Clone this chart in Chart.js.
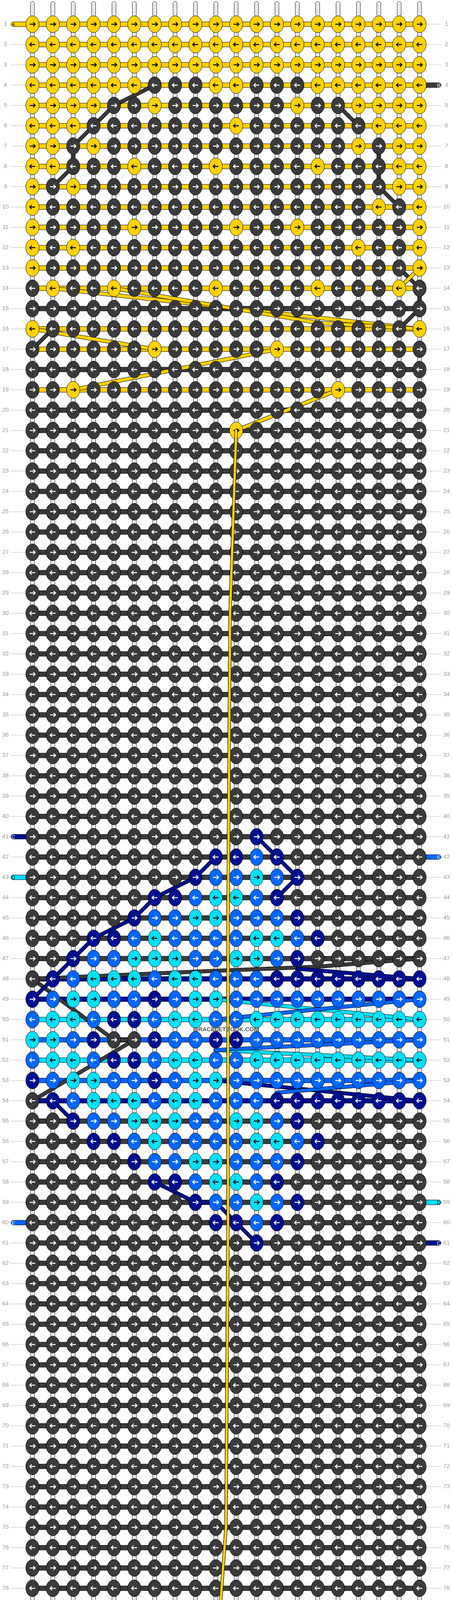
<!DOCTYPE html>
<html><head><meta charset="utf-8">
<script src="https://cdn.jsdelivr.net/npm/chart.js@4.4.1/dist/chart.umd.min.js"></script>
<style>html,body{margin:0;padding:0;background:#fff;overflow:hidden}canvas{display:block}</style>
</head><body><canvas id="c" width="1156" height="5272" style="width:1156px;height:5272px"></canvas>
<script>
// Knot colours per row (Y yellow, K dark, N navy, B blue, C cyan), columns 1..20
const rows = [
"YYYYYYYYYYYYYYYYYYYY","YYYYYYYYYYYYYYYYYYYY","YYYYYYYYYYYYYYYYYYYY",
"YYYYYYKKKYYKKKYYYYYY","YYYYKKYKKKKKKYKKYYYY","YYYKKKKKKKYKKKKKKYYY",
"YYKYKKKKKKKKKKKKYKYY","YYKKKYKKKYKKKKYKKKYY","YKYKKKKKKKKKKKKKKKYY",
"YKKKKKKKKKKKKKKKKYKY","YKKKKYKKKKYKKYKKKKKY","YKYKKKKKKKKKKKKKYKKY",
"YKKKKKKKKKKKKKKKKKKY","KYKKYKKKKYKKKKYKKKYK","KKKKKKKKKKKKKKKKKKKK",
"YKKKKKKKKKKKKKKKKKKY","KKKKKKYKKKKKYKKKKKKK","KKKKKKKKKKKKKKKKKKKK",
"KKYKKKKKKKKKKKKYKKKK","KKKKKKKKKKKKKKKKKKKK","KKKKKKKKKKYKKKKKKKKK",
"KKKKKKKKKKKKKKKKKKKK","KKKKKKKKKKKKKKKKKKKK","KKKKKKKKKKKKKKKKKKKK",
"KKKKKKKKKKKKKKKKKKKK","KKKKKKKKKKKKKKKKKKKK","KKKKKKKKKKKKKKKKKKKK",
"KKKKKKKKKKKKKKKKKKKK","KKKKKKKKKKKKKKKKKKKK","KKKKKKKKKKKKKKKKKKKK",
"KKKKKKKKKKKKKKKKKKKK","KKKKKKKKKKKKKKKKKKKK","KKKKKKKKKKKKKKKKKKKK",
"KKKKKKKKKKKKKKKKKKKK","KKKKKKKKKKKKKKKKKKKK","KKKKKKKKKKKKKKKKKKKK",
"KKKKKKKKKKKKKKKKKKKK","KKKKKKKKKKKKKKKKKKKK","KKKKKKKKKKKKKKKKKKKK",
"KKKKKKKKKKKKKKKKKKKK",
"KKKKKKKKKKKNKKKKKKKK", //41
"KKKKKKKKKNNBNKKKKKKK",
"KKKKKKKKNBBCBNKKKKKK",
"KKKKKKNNBCCBNKKKKKKK",
"KKKKKNBBCCBBBNKKKKKK",
"KKKNNBCBBBBCCBNKKKKK",
"KKNBBCCCBBCCBNKKKKKK",
"KNBCCCBCCBBBNNNNNNNN",
"NBCCBBNBCCBBBBBBBBBB",
"BCCBNNBCCBBCCCCCCCCC",
"CCBNKKNBBNNBBBBBBBBB", //51
"BCCBNNBCCBBCCCCCCCCC",
"NBCCBBNBCCBBBBBBBBBB",
"KNBCCCBCCBBBNNNNNNNN",
"KKNBBCCCBBCCBNKKKKKK",
"KKKNNBCBBBBCCBNKKKKK",
"KKKKKNBBCCBBBNKKKKKK",
"KKKKKKNNBCCBNKKKKKKK",
"KKKKKKKKNBBCBNKKKKKK",
"KKKKKKKKKNNBNKKKKKKK",
"KKKKKKKKKKKNKKKKKKKK", //61
"KKKKKKKKKKKKKKKKKKKK","KKKKKKKKKKKKKKKKKKKK","KKKKKKKKKKKKKKKKKKKK",
"KKKKKKKKKKKKKKKKKKKK","KKKKKKKKKKKKKKKKKKKK","KKKKKKKKKKKKKKKKKKKK",
"KKKKKKKKKKKKKKKKKKKK","KKKKKKKKKKKKKKKKKKKK","KKKKKKKKKKKKKKKKKKKK",
"KKKKKKKKKKKKKKKKKKKK","KKKKKKKKKKKKKKKKKKKK","KKKKKKKKKKKKKKKKKKKK",
"KKKKKKKKKKKKKKKKKKKK","KKKKKKKKKKKKKKKKKKKK","KKKKKKKKKKKKKKKKKKKK",
"KKKKKKKKKKKKKKKKKKKK","KKKKKKKKKKKKKKKKKKKK","KKKKKKKKKKKKKKKKKKKK",
"KKKKKKKKKKKKKKKKKKKK","KKKKKKKKKKKKKKKKKKKK", //81
"KKKKKKKKKYKKKKKKKKKK","KKKKKKKKKKKKKKKKKKKK","KKYKKKKKKKKKKKKYKKKK",
"KKKKKKKKKKKKKKKKKKKK","YKKKKKYKKKKKYKKKKKKK","KKKKKKKKKKKKKKKKKKKY",
"KYKKKKKKKYKKKKKKKKKK","YKKKKKKKKKKKKKYKKKYK","YKYKKKKKKKKKKKKKKKKY",
"YKKKKKYKKKYKKYKKYKKY","YKKKKKKKKKKKKKKKKKKY","YKYKKKKKKKKKKKKKKYKY",
"YYKKKYKKKYKKKKYKKKYY","YYKYKKKKKKKKKKKKYKYY","YYYKKKKKKKYKKKKKKYYY",
"YYYYKKYKKKKKKYKKYYYY","YYYYYYKKKYYKKKYYYYYY","YYYYYYYYYYYYYYYYYYYY",
"YYYYYYYYYYYYYYYYYYYY"];
// Colour of the horizontal carrier thread in each row
const carriers = "YYYYYYYYYYYYYYKYYKYKKKKKKKKKKKKKKKKKKKKKKKKKKKKNNCBCBNKKKKKKKKKKKKKKKKKKKKKKKKKKKKKYKYKYYYYYYYYYYYY";
// Thread labels: [row, side, letter, colour]
const threadLabels = [[1,"L","A","Y"],[4,"R","B","K"],[41,"L","C","N"],[42,"R","E","B"],[43,"L","D","C"],
  [59,"R","D","C"],[60,"L","E","B"],[61,"R","C","N"],[98,"L","B","K"],[100,"L","A","Y"]];
// Long yellow thread carried down the middle: [column, row]
const centerThread = [[11,21],[10.7,30],[10.6,45],[10.6,60],[10.5,75],[10,82]];
// Diagonal thread paths: [colour, [column,row] ...]
const diagonals = [
 ["K",[7,4],[5,5],[4,6],[3,7],[3,8],[2,9]],
 ["K",[16,5],[17,6]],["K",[18,7],[18,9],[19,10]],
 ["K",[19,13],[20,14],[20,15],[19,16]],["K",[2,16],[1,17]],
 ["Y",[19,14],[20,13]],
 ["Y",[2,14],[11,15],[20,16]],["Y",[5,14],[15,15.7],[20,16]],
 ["Y",[1,16],[7,17]],["Y",[13,17],[3,19]],["Y",[16,19],[11,21]],
 ["K",[1,48],[10,47.6],[15,47.4],[20,47]],["N",[14,47.5],[20,48]],
 ["K",[1,48],[5,51],[6,51],[1,54]],
 ["C",[10,49],[20,50]],["B",[10,50],[20,49]],
 ["C",[10,51.5],[20,52]],["B",[10,51.5],[20,51]],
 ["N",[10,53],[20,54]],["B",[13,53.6],[20,53]],
 ["N",[12,41],[13,42],[14,43],[13,44]],["N",[10,42],[9,43],[7,44],[6,45],[4,46],[3,47],[2,48],[1,49]],
 ["N",[12,61],[11,60],[10,59],[9,59],[7,58]],["N",[3,55],[2,54]],
 ["Y",[10,82],[16,84]],["Y",[3,84],[13,86]],["Y",[1,86],[20,87]],["Y",[20,87],[10,88]],
 ["Y",[2,88],[1,89]],["Y",[19,89],[20,90]],
 ["K",[19,93],[18,95],[17,96]],["K",[4,96],[5,97]],["K",[16,97],[14,98]],
 ["K",[1,87],[2,86]],["K",[19,87],[20,88]]
];
const colours = {Y:"#ffd200",K:"#3a3a3a",N:"#000f8f",B:"#0066ff",C:"#00e0f8"};
const arrowDark = {Y:true,C:true};

const points = [];
rows.forEach((s,ri)=>{for(let c=0;c<s.length;c++)points.push({x:c+1,y:ri+1,k:s[c]});});

const drawPlugin = {
 id:"bracelet",
 beforeDatasetsDraw(chart){
  const ctx=chart.ctx, xs=chart.scales.x, ys=chart.scales.y;
  const X=v=>xs.getPixelForValue(v), Y=v=>ys.getPixelForValue(v);
  ctx.save();
  for(let c=1;c<=20;c++){
    [[Y(1)-58,Y(1)-20],[Y(100)+20,Y(100)+58]].forEach(([a,b])=>{
      ctx.fillStyle="#fff";ctx.strokeStyle="#000";ctx.lineWidth=1;
      ctx.beginPath();ctx.roundRect(X(c)-5,a,10,b-a,5);ctx.fill();ctx.stroke();
      ctx.strokeStyle="#bbb";ctx.beginPath();ctx.moveTo(X(c)-1.5,a+4);ctx.lineTo(X(c)-1.5,b);ctx.moveTo(X(c)+1.5,a+4);ctx.lineTo(X(c)+1.5,b);ctx.stroke();
    });
  }
  ctx.font="15px Arial";ctx.textBaseline="middle";
  for(let r=1;r<=rows.length;r++){
    ctx.strokeStyle="#bbb";ctx.lineWidth=1;
    ctx.beginPath();ctx.moveTo(27,Y(r));ctx.lineTo(X(1)-15,Y(r));ctx.moveTo(X(20)+15,Y(r));ctx.lineTo(1128,Y(r));ctx.stroke();
    ctx.fillStyle="#999";ctx.textAlign="center";
    ctx.fillText(String(r),r>=100?11:14,Y(r));ctx.fillText(String(r),1142,Y(r));
  }
  for(let r=1;r<rows.length;r++)for(let c=1;c<=20;c++){
    const a=Y(r)+18,b=Y(r+1)-18;
    ctx.fillStyle="#fff";ctx.strokeStyle="#000";ctx.lineWidth=1;
    ctx.fillRect(X(c)-5,a,10,b-a);ctx.strokeRect(X(c)-5,a,10,b-a);
    ctx.strokeStyle="#bbb";ctx.beginPath();ctx.moveTo(X(c)-1.5,a);ctx.lineTo(X(c)-1.5,b);ctx.moveTo(X(c)+1.5,a);ctx.lineTo(X(c)+1.5,b);ctx.stroke();
  }
  for(let r=1;r<=rows.length;r++){
    const col=colours[carriers[r-1]];
    ctx.fillStyle=col;ctx.strokeStyle="#000";ctx.lineWidth=1;
    ctx.fillRect(X(1),Y(r)-6,X(20)-X(1),12);
    ctx.beginPath();ctx.moveTo(X(1),Y(r)-6);ctx.lineTo(X(20),Y(r)-6);ctx.moveTo(X(1),Y(r)+6);ctx.lineTo(X(20),Y(r)+6);ctx.stroke();
  }
  threadLabels.forEach(([r,side,t,k])=>{
    ctx.fillStyle=colours[k];ctx.strokeStyle="#000";
    const x0=side==="L"?28:X(20);const x1=side==="L"?X(1):1128;
    ctx.beginPath();ctx.roundRect(x0,Y(r)-6,x1-x0,12,6);ctx.fill();ctx.stroke();
    ctx.fillStyle=arrowDark[k]?"#000":"#fff";ctx.font="13px Arial";ctx.textAlign="center";
    ctx.fillText(t,side==="L"?34:1122,Y(r)+1);
  });
  ctx.lineCap="round";ctx.lineJoin="round";
  diagonals.forEach(d=>{
    const k=d[0],pts=d.slice(1);
    ctx.beginPath();pts.forEach(([c,r],i)=>{i?ctx.lineTo(X(c),Y(r)):ctx.moveTo(X(c),Y(r));});
    ctx.strokeStyle="#000";ctx.lineWidth=10;ctx.stroke();
    ctx.strokeStyle=colours[k];ctx.lineWidth=8;ctx.stroke();
  });
  ctx.strokeStyle="#000";ctx.lineWidth=8;ctx.beginPath();
  centerThread.forEach(([c,r],i)=>{i?ctx.lineTo(X(c),Y(r)):ctx.moveTo(X(c),Y(r));});ctx.stroke();
  ctx.strokeStyle=colours.Y;ctx.lineWidth=6;ctx.stroke();
  ctx.restore();
 },
 afterDatasetsDraw(chart){
  const ctx=chart.ctx;ctx.save();
  chart.data.datasets.forEach((ds,di)=>{
    const meta=chart.getDatasetMeta(di);
    meta.data.forEach((el,i)=>{
      const p=ds.data[i];
      ctx.fillStyle=colours[p.k];ctx.strokeStyle="#000";ctx.lineWidth=1;
      ctx.beginPath();ctx.ellipse(el.x,el.y,17,21.5,0,0,Math.PI*2);ctx.fill();ctx.stroke();
      const dir=(p.y%2===1)?1:-1;
      ctx.strokeStyle=arrowDark[p.k]?"#000":"#fff";ctx.lineWidth=2.4;ctx.lineCap="butt";
      ctx.beginPath();ctx.moveTo(el.x-7*dir,el.y);ctx.lineTo(el.x+7*dir,el.y);
      ctx.moveTo(el.x+2*dir,el.y-5);ctx.lineTo(el.x+7*dir,el.y);ctx.lineTo(el.x+2*dir,el.y+5);ctx.stroke();
    });
  });
  // central yellow thread passes over the knots in the middle section
  const xs=chart.scales.x, ys=chart.scales.y;
  ctx.lineCap="round";ctx.lineJoin="round";
  ctx.strokeStyle="#000";ctx.lineWidth=8;ctx.beginPath();
  centerThread.forEach(([c,r],i)=>{const x=xs.getPixelForValue(c),y=ys.getPixelForValue(r);i?ctx.lineTo(x,y):ctx.moveTo(x,y);});ctx.stroke();
  ctx.strokeStyle=colours.Y;ctx.lineWidth=6;ctx.stroke();
  ctx.font="bold 15px 'Liberation Sans Narrow', Arial";ctx.fillStyle="#555";ctx.textAlign="center";ctx.textBaseline="middle";
  ctx.fillText("BRACELETBOOK.COM",579,2636);
  ctx.restore();
 }
};

new Chart(document.getElementById("c"),{
 type:"scatter",
 data:{datasets:[{data:points,pointRadius:0,pointHoverRadius:0}]},
 options:{responsive:false,animation:false,devicePixelRatio:1,
  layout:{padding:{left:83,right:83,top:62,bottom:62}},
  plugins:{legend:{display:false},tooltip:{enabled:false}},
  scales:{x:{type:"linear",min:1,max:20,display:false},y:{type:"linear",min:1,max:100,reverse:true,display:false}}},
 plugins:[drawPlugin]
});
</script></body></html>
